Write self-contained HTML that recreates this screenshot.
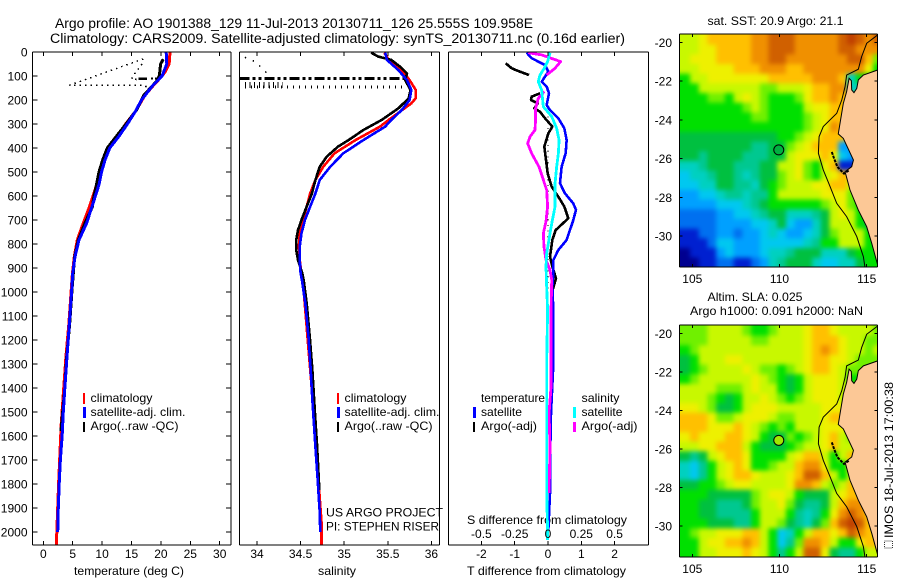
<!DOCTYPE html>
<html>
<head>
<meta charset="utf-8">
<title>Argo profile</title>
<style>
html,body{margin:0;padding:0;background:#fff;}
svg{display:block;}
text{font-family:"Liberation Sans",sans-serif;font-size:12px;fill:#000;}
.t{font-size:13.5px;}
</style>
</head>
<body>
<svg id="chart" width="900" height="580" viewBox="0 0 900 580" xmlns="http://www.w3.org/2000/svg">
<defs>
<clipPath id="clip-p1"><rect x="33" y="52" width="198" height="493"/></clipPath>
<clipPath id="clip-p2"><rect x="240" y="52" width="199" height="493"/></clipPath>
<clipPath id="clip-p3"><rect x="449" y="52" width="199" height="493"/></clipPath>
<clipPath id="clip-m1"><rect x="680" y="34" width="198" height="233"/></clipPath>
<clipPath id="clip-m2"><rect x="680" y="325" width="198" height="232"/></clipPath>
<filter id="soft" filterUnits="userSpaceOnUse" x="640" y="0" width="260" height="580" color-interpolation-filters="sRGB"><feGaussianBlur stdDeviation="2.3"/></filter>
</defs>
<text class="t" x="55" y="28" textLength="478" lengthAdjust="spacingAndGlyphs">Argo profile: AO 1901388_129 11-Jul-2013 20130711_126 25.555S 109.958E</text>
<text class="t" x="50" y="43" textLength="575" lengthAdjust="spacingAndGlyphs">Climatology: CARS2009. Satellite-adjusted climatology: synTS_20130711.nc (0.16d earlier)</text>

<text x="74" y="575" textLength="110" lengthAdjust="spacingAndGlyphs">temperature (deg C)</text>
<text x="318" y="575" textLength="38" lengthAdjust="spacingAndGlyphs">salinity</text>
<text x="467" y="524" textLength="160" lengthAdjust="spacingAndGlyphs">S difference from climatology</text>
<text x="467" y="575" textLength="159" lengthAdjust="spacingAndGlyphs">T difference from climatology</text>

<g>
<rect x="83" y="393" width="2" height="11" fill="#ff0000"/>
<rect x="83" y="407" width="3" height="11" fill="#0000ff"/>
<rect x="83" y="422" width="2" height="10" fill="#000"/>
<text x="90.5" y="402" textLength="62" lengthAdjust="spacingAndGlyphs">climatology</text>
<text x="90.5" y="416" textLength="95" lengthAdjust="spacingAndGlyphs">satellite-adj. clim.</text>
<text x="90.5" y="430" textLength="88" lengthAdjust="spacingAndGlyphs">Argo(..raw -QC)</text>
</g>
<g>
<rect x="337" y="393" width="2" height="11" fill="#ff0000"/>
<rect x="337" y="407" width="3" height="11" fill="#0000ff"/>
<rect x="337" y="422" width="2" height="10" fill="#000"/>
<text x="344.5" y="402" textLength="62" lengthAdjust="spacingAndGlyphs">climatology</text>
<text x="344.5" y="416" textLength="95" lengthAdjust="spacingAndGlyphs">satellite-adj. clim.</text>
<text x="344.5" y="430" textLength="88" lengthAdjust="spacingAndGlyphs">Argo(..raw -QC)</text>
</g>
<text x="326" y="516.5" textLength="117" lengthAdjust="spacingAndGlyphs">US ARGO PROJECT</text>
<text x="326" y="530.5" textLength="113" lengthAdjust="spacingAndGlyphs">PI: STEPHEN RISER</text>
<g>
<text x="481" y="402" textLength="64" lengthAdjust="spacingAndGlyphs">temperature</text>
<text x="581.5" y="402" textLength="38" lengthAdjust="spacingAndGlyphs">salinity</text>
<rect x="473" y="407" width="3" height="11" fill="#0000ff"/>
<rect x="473" y="422" width="2" height="10" fill="#000"/>
<rect x="573" y="407" width="3" height="11" fill="#00ffff"/>
<rect x="573" y="422" width="3" height="10" fill="#ff00ff"/>
<text x="481" y="416" textLength="41" lengthAdjust="spacingAndGlyphs">satellite</text>
<text x="481" y="430" textLength="56" lengthAdjust="spacingAndGlyphs">Argo(-adj)</text>
<text x="581.5" y="416" textLength="41" lengthAdjust="spacingAndGlyphs">satellite</text>
<text x="581.5" y="430" textLength="56" lengthAdjust="spacingAndGlyphs">Argo(-adj)</text>
</g>

<text x="707.5" y="25" textLength="136" lengthAdjust="spacingAndGlyphs">sat. SST: 20.9 Argo: 21.1</text>
<text x="707.5" y="301" textLength="95" lengthAdjust="spacingAndGlyphs">Altim. SLA: 0.025</text>
<text x="690" y="315" textLength="173" lengthAdjust="spacingAndGlyphs">Argo h1000: 0.091 h2000: NaN</text>
<text transform="translate(893,538) rotate(-90)" textLength="156" lengthAdjust="spacingAndGlyphs">IMOS 18-Jul-2013 17:00:38</text>
<rect x="884.5" y="541" width="8" height="7" fill="none" stroke="#333" stroke-width="1" stroke-dasharray="1 1" shape-rendering="crispEdges"/>
<g id="layer"></g>
</svg>
<script>
// ---------- axis ticks ----------
const depthTicks = [0,100,200,300,400,500,600,700,800,900,1000,1100,1200,1300,1400,1500,1600,1700,1800,1900,2000];
const tempTicks = [0,5,10,15,20,25,30];
const salTicks = [34,34.5,35,35.5,36];
const diffTTicks = [-2,-1,0,1,2];
const diffSTicks = [-0.5,-0.25,0,0.25,0.5];
const lonTicks = [105,110,115];
const latTicks = [-20,-22,-24,-26,-28,-30];

// ---------- temperature panel ----------
const climTempDepth = [0,50,80,100,140,180,250,300,350,400,450,500,550,575,646,713,783,853,923,992,1131,1269,1408,1550,1800,2000,2054];
const climTemp = [21.55,21.4,20.8,20.2,18.7,17.3,15.6,14.0,12.6,10.9,10.2,9.6,9.1,8.79,7.83,6.8,5.78,5.27,4.95,4.75,4.35,3.85,3.45,3.05,2.6,2.3,2.2];
const satTempDepth = [0,50,100,140,200,250,300,350,400,450,500,550,575,713,783,853,923,992,1131,1269,1408,1500,1600,1700,1800,1900,2000];
const satTemp = [20.9,21.0,20.2,18.6,16.7,15.6,14.3,12.9,11.3,10.5,9.9,9.5,9.19,7.37,6.07,5.39,5.0,4.83,4.43,4.03,3.64,3.4,3.2,2.9,2.7,2.55,2.45];
const argoTempDepth = [30,50,100,120,140,180,200,240,300,350,400,450,500,550,600,646,713,783,853,923,992,1131,1269,1408,1580];
const argoTemp = [20.4,19.95,19.73,19.3,18.6,17.1,16.7,15.9,14.06,12.47,10.88,10.09,9.47,9.07,8.62,8.34,7.09,5.96,5.33,5.1,4.88,4.49,3.98,3.64,3.0];
const rawTempDepthA = [29,138,138,160];
const rawTempA = [17.0,4.5,17.2,18.2];
const rawTempDepthB = [50,88,113,115];
const rawTempB = [16.8,15.6,15.0,16.0];
const qcTempDepth = [112,112];
const qcTemp = [16.2,17.6];
const qcTempDotDepth = [110,110];
const qcTempDot = [18.3,19.8];

// ---------- salinity panel ----------
const climSalDepth = [3,33,75,117,158,193,214,283,311,367,422,478,533,589,644,700,756,811,867,922,950,1367,1960,2054];
const climSal = [35.46,35.51,35.66,35.75,35.82,35.82,35.77,35.51,35.41,35.13,34.89,34.76,34.67,34.61,34.57,34.53,34.49,34.48,34.49,34.51,34.525,34.62,34.74,34.74];
const satSalDepth = [3,33,75,117,158,200,242,283,311,367,422,478,533,589,644,700,756,811,867,922,950,1047,1186,1325,1450,1506,1646,1783,1922,2000];
const satSal = [35.47,35.49,35.62,35.72,35.77,35.75,35.66,35.54,35.47,35.22,34.99,34.84,34.72,34.67,34.61,34.55,34.51,34.49,34.49,34.5,34.515,34.554,34.59,34.616,34.635,34.645,34.67,34.696,34.72,34.725];
const argoSalDepth = [3,19,33,61,89,117,158,193,235,283,325,367,394,436,478,533,589,644,700,742,783,825,867,922,950,1047,1186,1325,1506,1646,1825];
const argoSal = [35.31,35.39,35.54,35.64,35.72,35.7,35.76,35.74,35.62,35.43,35.22,35.05,34.93,34.8,34.72,34.67,34.63,34.57,34.51,34.47,34.45,34.45,34.47,34.52,34.535,34.57,34.605,34.635,34.665,34.69,34.715];
const rawSalDepthA = [22,40,75,103];
const rawSalA = [33.86,33.98,34.08,34.15];
const rawSalDepthB = [110,110];
const rawSalB = [33.8,35.72];
const rawSalDepthC = [137,137];
const rawSalC = [33.86,34.3];
const rawSalDepthD = [146,146];
const rawSalD = [33.86,35.72];

// ---------- difference panel ----------
const diffTSatDepth = [3,26,54,82,124,144,172,221,242,276,318,367,422,478,547,589,631,658,700,783,825,867,922,978,1075,1300,1505,1646,1838,1992];
const diffTSat = [-0.64,-0.49,-0.09,0.01,-0.19,-0.04,0.03,-0.04,0.06,0.31,0.49,0.56,0.53,0.41,0.36,0.51,0.76,0.84,0.76,0.56,0.31,0.16,0.16,0.13,0.16,0.16,0.09,0.07,0.06,0.01];
const diffTArgoDepth = [47,68,82,96,null,172,186,200,214,235,249,276,311,339,394,450,506,561,603,644,693,742,783,853,894,943,1006,1075,1300,1400,1505];
const diffTArgo = [-1.27,-1.09,-0.84,-0.57,null,-0.24,-0.49,-0.51,-0.31,-0.41,-0.24,-0.09,0.13,0.01,-0.11,-0.06,-0.01,0.11,0.31,0.49,0.61,0.23,0.13,0.06,0.13,0.24,0.11,0.11,0.15,0.1,0.05];
const diffSSatDepth = [3,40,68,96,124,158,228,269,318,367,422,478,547,644,700,756,839,894,978,1075,1300,1838,1992,2033];
const diffSSat = [0.015,-0.003,-0.028,-0.06,-0.073,-0.048,-0.035,0.028,0.065,0.083,0.078,0.065,0.053,0.053,0.033,0.015,-0.01,-0.015,-0.01,-0.003,-0.01,-0.01,-0.003,-0.003];
const diffSArgoDepth = [3,12,40,68,96,null,165,193,235,283,325,353,381,422,478,533,575,644,706,756,811,867,908,950,1075,1400,1505,1646,1838];
const diffSArgo = [-0.148,-0.048,0.095,0.052,-0.01,null,-0.028,-0.073,-0.093,-0.093,-0.098,-0.135,-0.153,-0.123,-0.068,-0.035,-0.01,-0.003,-0.015,-0.035,-0.03,-0.015,0.015,0.028,0.023,0.022,0.008,0.015,0.008];
const zeroDepth = [150,1200];
const zeroDiff = [0,0];

// ---------- map grids: colour-class value per 0.5 degree cell, null = no data ----------
const _ = null;
const sstRows = [
[10,10,11,12,12,12,12,12,13,13,14,14,14,13,13,13,13,13,14,15,14,13,14],
[10,10,11,11,12,12,12,12,13,13,14,14,14,13,13,13,13,13,14,14,13,13,13],
[10,11,11,11,12,12,12,12,13,13,14,14,13,13,13,13,13,13,13,14,14,12,9],
[10,10,11,11,11,11,12,12,12,13,13,13,12,12,13,13,13,13,13,13,13,11,8],
[8,10,10,11,11,11,11,11,11,11,12,12,12,12,12,13,13,13,12,5,8,_,_],
[8,8,10,10,10,10,10,10,10,9,9,10,10,10,11,12,12,13,13,5,_,_,_],
[8,8,8,9,9,8,10,11,10,9,8,8,8,9,11,12,12,13,12,_,_,_,_],
[8,8,8,8,8,8,8,9,10,9,8,8,8,8,10,11,11,12,12,_,_,_,_],
[8,8,8,8,8,8,8,8,9,9,8,8,8,8,9,10,11,12,12,_,_,_,_],
[8,8,8,8,8,8,8,8,8,8,8,8,8,8,9,10,11,13,12,12,_,_,_],
[7,7,7,7,7,7,7,7,7,7,7,8,8,9,10,11,12,12,12,5,_,_,_],
[7,7,7,7,7,7,7,7,6,6,7,7,9,10,11,12,12,12,3,3,2,_,_],
[7,7,6,7,7,7,7,6,6,6,7,7,10,11,11,11,12,11,4,3,1,_,_],
[5,5,6,7,7,7,6,6,6,7,7,10,10,11,9,8,11,12,1,1,_,_,_],
[4,5,5,6,7,7,6,5,6,7,7,9,10,11,9,8,10,11,12,12,_,_,_],
[4,4,5,5,7,7,6,6,5,7,8,9,10,10,10,11,11,12,12,10,8,_,_],
[3,3,4,4,5,6,6,5,6,6,8,10,10,10,10,10,11,11,11,9,8,_,_],
[3,3,3,3,4,4,4,5,6,7,8,8,8,8,8,8,9,10,11,9,8,8,_],
[2,2,2,2,3,3,4,4,5,6,7,7,5,5,5,6,7,10,11,10,8,7,_],
[2,2,2,2,3,3,3,3,4,4,5,7,4,3,3,5,7,10,10,10,8,7,_],
[1,1,2,2,3,3,2,3,3,4,5,4,3,3,4,5,7,9,10,10,10,8,_],
[1,1,1,2,4,4,3,3,3,4,4,4,4,4,5,6,8,8,10,10,10,8,_],
[0,1,1,1,3,4,3,3,3,4,5,5,6,7,7,7,5,5,5,7,8,8,_],
[0,0,1,1,2,2,1,1,2,3,5,6,7,7,7,5,4,4,5,5,7,8,_]
];
const slaRows = [
[9,9,9,10,10,10,10,9,8,8,9,10,10,10,11,12,12,11,10,10,10,10,9],
[9,9,9,10,10,10,10,10,9,9,10,10,10,10,11,12,12,12,11,10,10,9,9],
[8,9,10,10,10,10,10,10,10,10,10,10,10,10,11,12,13,12,11,10,10,9,10],
[7,8,10,10,10,11,11,10,10,10,10,10,10,10,11,12,12,11,11,10,9,9,_],
[7,8,9,10,10,10,10,11,10,9,9,8,9,10,11,12,12,11,10,9,_,_,_],
[8,9,10,10,10,10,10,10,11,10,9,8,7,8,10,11,11,11,10,8,_,_,_],
[10,10,10,10,9,9,9,10,11,10,10,8,7,8,10,11,11,11,10,_,_,_,_],
[10,10,10,9,8,7,8,10,10,11,10,9,8,9,10,11,11,11,10,_,_,_,_],
[11,11,10,9,7,7,8,10,11,11,11,10,10,10,10,10,11,11,11,_,_,_,_],
[12,12,12,11,9,9,10,11,11,11,10,9,9,10,10,10,11,12,12,11,_,_,_],
[12,12,12,11,11,11,12,11,10,9,8,9,8,10,10,10,11,11,11,9,_,_,_],
[11,12,11,11,11,12,12,11,10,8,7,7,9,8,9,10,11,12,10,9,10,_,_],
[10,10,11,11,12,12,12,10,8,7,7,7,8,9,10,10,11,12,10,10,11,_,_],
[7,6,7,10,11,12,12,11,8,8,8,8,10,11,12,12,10,8,10,12,12,_,_],
[5,4,6,8,10,11,12,11,8,8,9,10,10,12,13,13,11,8,8,11,12,12,_],
[5,4,6,8,10,11,12,12,11,10,10,10,11,12,14,14,12,10,8,10,12,12,_],
[7,7,8,8,9,10,11,11,10,10,10,10,11,13,13,12,10,9,10,12,13,12,_],
[8,8,8,7,7,7,7,7,9,10,11,11,10,8,7,7,7,10,11,12,12,12,_],
[8,8,7,7,6,6,6,7,9,10,10,11,9,7,6,6,7,10,12,13,13,12,12],
[8,8,7,7,6,6,6,6,8,10,10,10,8,6,5,6,8,11,13,14,13,12,12],
[8,8,8,7,7,7,6,6,8,10,10,9,7,6,5,7,9,12,14,15,14,12,12],
[8,9,10,10,11,11,11,12,12,10,8,4,5,8,10,12,12,11,12,14,13,12,11],
[8,8,10,11,11,12,12,13,12,10,8,4,6,9,13,13,12,10,8,8,11,12,_],
[8,8,10,10,11,11,11,12,11,10,8,6,8,10,14,14,11,7,6,6,8,10,_]
];
const heatColors = ['#000090','#0020d0','#0070f0','#00a0ff','#00c8f0','#00d0c0','#00c890','#00c040','#00e000','#70f000','#c8f800','#eef000','#ffc000','#f09000','#d06000','#c04000'];
const landLon = [115.63,114.81,114.52,114.43,114.27,114.14,114.12,113.99,113.85,113.66,113.47,113.37,113.66,114.24,114.14,113.76,114.04,114.52,115.0,115.29,115.63,115.9,115.9];
const landLat = [-21.43,-21.69,-21.94,-22.38,-22.6,-22.46,-21.98,-21.86,-22.55,-23.15,-24.18,-24.73,-24.96,-26.08,-26.42,-26.68,-27.62,-28.66,-29.52,-30.38,-31.5,-31.8,-21.43];
const shelfLon = [115.63,115.0,114.71,114.52,113.85,113.76,113.57,113.28,112.51,112.27,112.23,112.51,112.9,113.28,113.85,114.43,114.81,114.9];
const shelfLat = [-19.62,-20.05,-20.74,-21.39,-21.69,-22.29,-22.98,-23.67,-24.35,-24.87,-25.73,-26.59,-27.45,-28.31,-29.0,-30.03,-31.07,-31.62];
const bayLon = [113.0,113.13,113.32,113.7,114.0];
const bayLat = [-25.66,-26.0,-26.43,-26.78,-26.6];
const floatLon = 109.958;
const floatLat = -25.555;
const GRID_LON0 = 104.37, GRID_LAT0 = -19.62, CELL = 0.5;

// ---------- axis functions ----------
const xTemp = v => 43.3 + 5.88 * v;
const xSal = v => 257 + 87.2 * (v - 34);
const xDiffT = v => 548 + 33.3 * v;
const xDiffS = v => 548 + 133.2 * v;
const yDepth = d => 52 + 0.24 * d;
const xLon = v => 692.3 + 17.44 * (v - 105);
const yLatA = v => 42.3 + 19.37 * (-20 - v);
const yLatB = v => 333.3 + 19.27 * (-20 - v);

const NS = 'http://www.w3.org/2000/svg';
const layer = document.getElementById('layer');
function mk(tag, parent, attrs) {
  const e = document.createElementNS(NS, tag);
  for (const k in attrs) e.setAttribute(k, attrs[k]);
  parent.appendChild(e);
  return e;
}
function pathFrom(xs, ys) {
  let d = '', pen = false;
  for (let i = 0; i < xs.length; i++) {
    if (xs[i] === null || ys[i] === null) { pen = false; continue; }
    d += (pen ? 'L' : 'M') + xs[i].toFixed(2) + ' ' + ys[i].toFixed(2);
    pen = true;
  }
  return d;
}
function seg(parent, x1, y1, x2, y2) {
  const l = mk('line', parent, {x1, y1, x2, y2, stroke: '#000', 'stroke-width': 1, 'shape-rendering': 'crispEdges'});
  
  
  return l;
}
function label(parent, x, y, anchor, s) {
  const t = mk('text', parent, {x, y, 'text-anchor': anchor});
  t.textContent = s;
  
  
  return t;
}
function series(parent, name, depths, vals, xf, color, width, dash) {
  const xs = vals.map(v => v === null ? null : xf(v));
  const ys = depths.map(d => d === null ? null : yDepth(d));
  const attrs = {d: pathFrom(xs, ys), fill: 'none', stroke: color, 'stroke-width': width, 'shape-rendering': 'crispEdges', 'stroke-linejoin': 'round'};
  if (dash) attrs['stroke-dasharray'] = dash;
  const p = mk('path', parent, attrs);
  
  
  return p;
}
function panel(name, clip, L, R, T, B) {
  const g = mk('g', layer, {});
  
  
  const plot = mk('g', g, {'clip-path': 'url(#' + clip + ')'});
  
  
  return {g, plot, L, R, T, B};
}
function frame(p) {
  seg(p.g, p.L, p.T, p.R, p.T); seg(p.g, p.L, p.B, p.R, p.B);
  seg(p.g, p.L, p.T, p.L, p.B); seg(p.g, p.R, p.T, p.R, p.B);
}
function xTicks(p, ticks, xf, len) {
  ticks.forEach(v => {
    seg(p.g, xf(v), p.T, xf(v), p.T + len);
    seg(p.g, xf(v), p.B, xf(v), p.B - len);
  });
}

// panel 1: temperature
const p1 = panel('temperature-panel', 'clip-p1', 32.5, 231, 52, 545);
series(p1.plot, 'argo-raw-temperature-dotted', rawTempDepthA, rawTempA, xTemp, '#000', 1.5, '1.5 4');
series(p1.plot, 'argo-raw-temperature-dotted-2', rawTempDepthB, rawTempB, xTemp, '#000', 1.5, '1.5 4');
series(p1.plot, 'argo-qc-temperature-segment', qcTempDepth, qcTemp, xTemp, '#000', 2.5);
series(p1.plot, 'argo-qc-temperature-dots', qcTempDotDepth, qcTempDot, xTemp, '#000', 2, '2 2');
series(p1.plot, 'climatology-temperature-line', climTempDepth, climTemp, xTemp, '#ff0000', 3);
series(p1.plot, 'argo-temperature-line', argoTempDepth, argoTemp, xTemp, '#000', 3);
series(p1.plot, 'satellite-temperature-line', satTempDepth, satTemp, xTemp, '#0000ff', 3);
frame(p1);
xTicks(p1, tempTicks, xTemp, 4);
tempTicks.forEach(v => label(p1.g, xTemp(v), 558, 'middle', String(v)));
depthTicks.forEach(d => {
  seg(p1.g, p1.L, yDepth(d), p1.L + 5, yDepth(d));
  seg(p1.g, p1.R, yDepth(d), p1.R - 5, yDepth(d));
  label(p1.g, 27.5, yDepth(d) + 4.5, 'end', String(d));
});

// panel 2: salinity
const p2 = panel('salinity-panel', 'clip-p2', 239.5, 439.5, 52, 545);
series(p2.plot, 'argo-raw-salinity-dotted', rawSalDepthA, rawSalA, xSal, '#000', 1.5, '1.5 7');
series(p2.plot, 'argo-qc-salinity-dashdot', rawSalDepthB, rawSalB, xSal, '#000', 3, '10 3 3 3 3 3');
series(p2.plot, 'argo-raw-salinity-ticks-left', rawSalDepthC, rawSalC, xSal, '#000', 6, '1 3.7');
series(p2.plot, 'argo-raw-salinity-ticks', rawSalDepthD, rawSalD, xSal, '#000', 3, '1 5');
series(p2.plot, 'climatology-salinity-line', climSalDepth, climSal, xSal, '#ff0000', 2.6);
series(p2.plot, 'argo-salinity-line', argoSalDepth, argoSal, xSal, '#000', 2.6);
series(p2.plot, 'satellite-salinity-line', satSalDepth, satSal, xSal, '#0000ff', 2.6);
frame(p2);
xTicks(p2, salTicks, xSal, 4);
salTicks.forEach(v => label(p2.g, xSal(v), 558, 'middle', String(v)));

// panel 3: differences
const p3 = panel('difference-panel', 'clip-p3', 448.5, 648.5, 52, 545);
series(p3.plot, 'zero-reference-dotted', zeroDepth, zeroDiff, xDiffT, '#000', 1.2, '1.2 4.5');
series(p3.plot, 'argo-temperature-difference-line', diffTArgoDepth, diffTArgo, xDiffT, '#000', 2.6);
series(p3.plot, 'satellite-temperature-difference-line', diffTSatDepth, diffTSat, xDiffT, '#0000ff', 2.6);
series(p3.plot, 'argo-salinity-difference-line', diffSArgoDepth, diffSArgo, xDiffS, '#ff00ff', 2.8);
series(p3.plot, 'satellite-salinity-difference-line', diffSSatDepth, diffSSat, xDiffS, '#00ffff', 2.8);
frame(p3);
xTicks(p3, diffTTicks, xDiffT, 4);
diffTTicks.forEach(v => label(p3.g, xDiffT(v), 558, 'middle', String(v)));
diffSTicks.forEach(v => label(p3.g, xDiffS(v), 538, 'middle', String(v)));

// maps
function drawMap(name, clip, rows, yLat, T, B, markerFill) {
  const g = mk('g', layer, {});
  
  
  const plot = mk('g', g, {'clip-path': 'url(#' + clip + ')'});
  
  
  const soft = mk('g', plot, {filter: 'url(#soft)'});
  
  
  const lastRow = rows.length - 1;
  rows.forEach((row, r) => {
    let prev = row[0];
    const lastCol = row.length - 1;
    row.forEach((val, c) => {
      // cells under the land polygon repeat the last sea value so the coast has no pale fringe
      const v = val === null ? prev : val;
      prev = v;
      // outer cells run past the frame so the soft edge falls outside the clip
      const x0 = xLon(GRID_LON0 + c * CELL) - (c === 0 ? 12 : 0);
      const x1 = xLon(GRID_LON0 + (c + 1) * CELL) + (c === lastCol ? 12 : 0);
      const y0 = yLat(GRID_LAT0 - r * CELL) - (r === 0 ? 12 : 0);
      const y1 = yLat(GRID_LAT0 - (r + 1) * CELL) + (r === lastRow ? 12 : 0);
      const cell = mk('rect', soft, {x: x0.toFixed(2), y: y0.toFixed(2), width: (x1 - x0 + 0.4).toFixed(2), height: (y1 - y0 + 0.4).toFixed(2), fill: heatColors[v]});
      
      
    });
  });
  const land = mk('path', plot, {d: pathFrom(landLon.map(xLon), landLat.map(yLat)) + 'Z', fill: '#fcc896', stroke: '#000', 'stroke-width': 1});
  
  
  const shelf = mk('path', plot, {d: pathFrom(shelfLon.map(xLon), shelfLat.map(yLat)), fill: 'none', stroke: '#000', 'stroke-width': 1});
  
  
  const bay = mk('path', plot, {d: pathFrom(bayLon.map(xLon), bayLat.map(yLat)), fill: 'none', stroke: '#000', 'stroke-width': 2, 'stroke-dasharray': '3 1'});
  
  
  const f = {g, L: 679.5, R: 877.5, T, B};
  frame(f);
  xTicks(f, lonTicks, xLon, 3);
  lonTicks.forEach(v => label(g, xLon(v), B + 16, 'middle', String(v)));
  latTicks.forEach(v => {
    seg(g, f.L, yLat(v), f.L + 3, yLat(v));
    seg(g, f.R, yLat(v), f.R - 3, yLat(v));
    label(g, 672, yLat(v) + 4.5, 'end', String(v));
  });
  const mark = mk('circle', g, {cx: xLon(floatLon), cy: yLat(floatLat), r: 5, fill: markerFill, stroke: '#000', 'stroke-width': 1});
  
  
}
drawMap('sst-map', 'clip-m1', sstRows, yLatA, 34, 267, '#00b040');
drawMap('sla-map', 'clip-m2', slaRows, yLatB, 325, 557, '#a0e800');
</script>
</body>
</html>
